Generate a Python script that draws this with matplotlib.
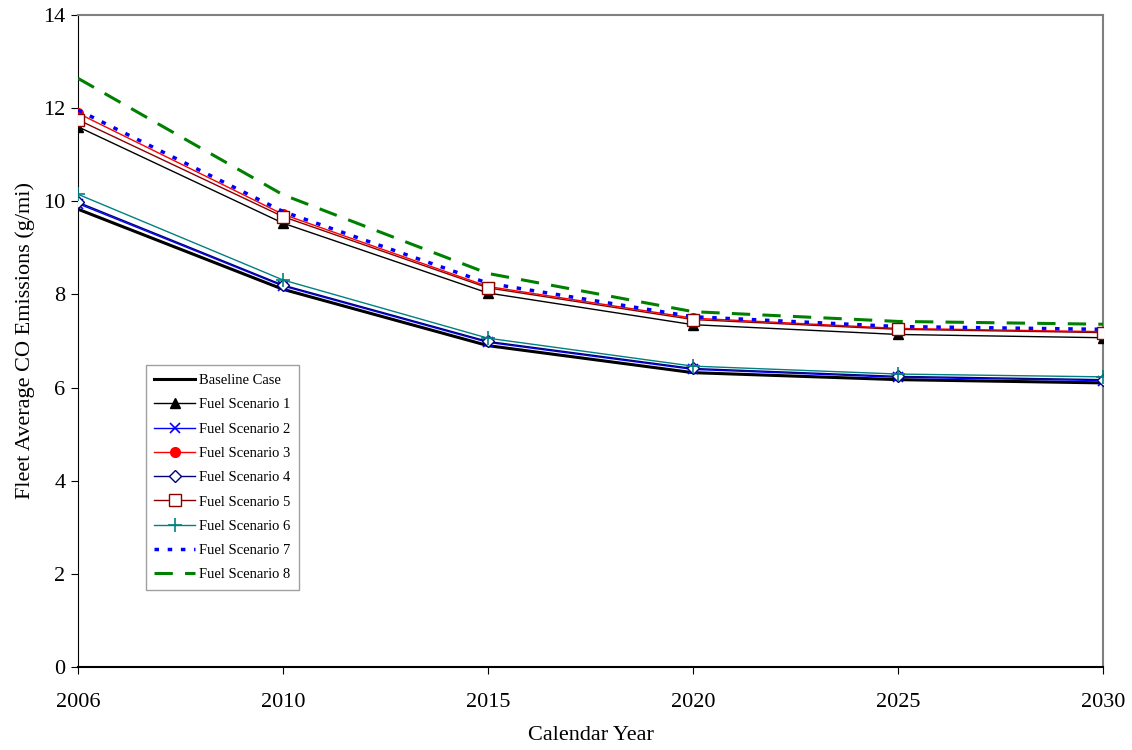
import matplotlib
matplotlib.use("Agg")
import matplotlib.pyplot as plt
import numpy as np

plt.rcParams['font.family'] = ['Liberation Serif', 'DejaVu Serif']

years = ["2006", "2010", "2015", "2020", "2025", "2030"]

baseline = [9.83, 8.11, 6.90, 6.32, 6.17, 6.10]
fuel1 = [11.60, 9.53, 8.03, 7.35, 7.14, 7.07]
fuel2 = [9.95, 8.18, 6.97, 6.39, 6.22, 6.15]
fuel3 = [11.89, 9.72, 8.17, 7.49, 7.27, 7.20]
fuel4 = [9.98, 8.20, 6.99, 6.41, 6.24, 6.17]
fuel5 = [11.75, 9.67, 8.14, 7.46, 7.25, 7.18]
fuel6 = [10.15, 8.31, 7.06, 6.46, 6.29, 6.23]
fuel7 = [11.96, 9.78, 8.24, 7.52, 7.31, 7.25]
fuel8 = [12.64, 10.14, 8.45, 7.63, 7.42, 7.36]

labels = ["Baseline Case", "Fuel Scenario 1", "Fuel Scenario 2", "Fuel Scenario 3",
          "Fuel Scenario 4", "Fuel Scenario 5", "Fuel Scenario 6", "Fuel Scenario 7",
          "Fuel Scenario 8"]

fig = plt.figure(figsize=(11.32, 7.5), dpi=100)
ax = fig.add_axes([0.0689, 0.1107, 0.9055, 0.8693])

x = np.arange(len(years))

ax.plot(x, baseline, color='black', lw=2.2, label=labels[0], zorder=3)
ax.plot(x, fuel1, color='black', lw=1.0, marker='^', ms=7, mfc='black', mec='black', label=labels[1], zorder=3)
ax.plot(x, fuel2, color='blue', lw=1.0, marker='x', ms=7, mew=1.2, label=labels[2], zorder=3)
ax.plot(x, fuel3, color='red', lw=1.0, marker='o', ms=7, mfc='red', mec='red', label=labels[3], zorder=3)
ax.plot(x, fuel4, color='navy', lw=1.0, marker='D', ms=6, mfc='white', mec='navy', label=labels[4], zorder=3)
ax.plot(x, fuel5, color='darkred', lw=1.0, marker='s', ms=8, mfc='white', mec='darkred', label=labels[5], zorder=4)
ax.plot(x, fuel6, color='teal', lw=1.0, marker='+', ms=10, mew=1.2, label=labels[6], zorder=3)
ax.plot(x, fuel7, color='blue', lw=2.5, ls=(0, (1.3, 2.5)), label=labels[7], zorder=3)
ax.plot(x, fuel8, color='green', lw=2.2, ls=(0, (6, 4)), label=labels[8], zorder=3)

ax.set_xlim(0, len(years) - 1)
ax.set_ylim(0, 14)
ax.set_xticks(x)
ax.set_xticklabels(years)
ax.set_yticks(np.arange(0, 15, 2))
ax.tick_params(axis='both', labelsize=16, direction='out', length=5, color='black')
ax.tick_params(axis='x', pad=14)
ax.tick_params(axis='y', pad=4)

ax.spines['left'].set_color('black')
ax.spines['bottom'].set_color('black')
ax.spines['bottom'].set_linewidth(1.5)
ax.spines['top'].set_color('#808080')
ax.spines['right'].set_color('#808080')
ax.spines['top'].set_linewidth(1.5)
ax.spines['right'].set_linewidth(1.5)

ax.set_xlabel("Calendar Year", fontsize=16, labelpad=10)
ax.set_ylabel("Fleet Average CO Emissions (g/mi)", fontsize=16, labelpad=6)

leg = ax.legend(loc='upper left', bbox_to_anchor=(0.066, 0.463), fontsize=10.5,
                frameon=True, fancybox=False, edgecolor='#a0a0a0', framealpha=1,
                handlelength=2.8, handletextpad=0.25, labelspacing=0.76,
                borderpad=0.6, borderaxespad=0)
leg.get_frame().set_linewidth(1.0)

fig.savefig("out.png", dpi=100)
